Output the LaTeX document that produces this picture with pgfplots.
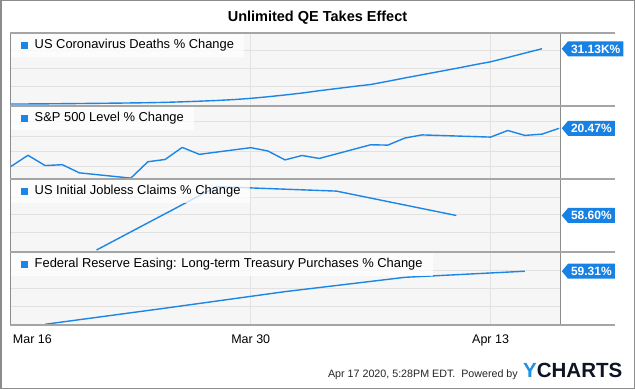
\documentclass[border=0pt]{standalone}
\usepackage{pgfplots}
\pgfplotsset{compat=1.18}
\usepackage{fontspec}
\setmainfont{Liberation Sans}
\usetikzlibrary{shapes.symbols}
\definecolor{lineblue}{RGB}{28,134,230}
\definecolor{tagblue}{RGB}{24,130,228}
\definecolor{panelbg}{RGB}{246,246,246}
\definecolor{gridc}{RGB}{226,226,226}
\definecolor{bordc}{RGB}{140,140,140}
\definecolor{sepc}{RGB}{165,165,165}
\definecolor{ychblue}{RGB}{30,144,232}
\definecolor{ychdark}{RGB}{14,20,36}
\tikzset{
  legbox/.style={fill=white, fill opacity=0.75, text opacity=1, anchor=north west,
    inner xsep=10pt, inner ysep=0pt, minimum height=23pt, text height=9pt, text depth=2.5pt,
    font=\fontsize{12.9}{14}\selectfont, xshift=1pt, yshift=-1pt},
  tag/.style={signal, signal to=west, signal pointer angle=100, fill=tagblue, text=white,
    font=\bfseries\fontsize{12}{12}\selectfont, inner xsep=3pt, inner ysep=0pt,
    minimum height=15pt, text height=8.7pt, text depth=0pt, anchor=west, xshift=1.5pt},
}
\newcommand{\legsq}{\textcolor{lineblue}{\rule[-0.5pt]{6.5pt}{7.5pt}}\hspace{7pt}}
\pgfplotsset{
  panel/.style={
    width=550pt, height=73pt, scale only axis,
    xmin=-0.05, xmax=32.05,
    axis background/.style={fill=panelbg},
    xtick={14,28}, xticklabels={},
    xmajorgrids, ymajorgrids,
    grid style={draw=gridc, line width=0.8pt},
    yticklabels={}, scaled y ticks=false,
    major tick length=0pt,
    axis line style={draw=bordc, line width=0.8pt},
    clip=false,
  },
  series/.style={lineblue, line width=1.4pt, line join=round},
}
\begin{document}
\begin{tikzpicture}[x=1pt,y=1pt]
\useasboundingbox (0pt,0pt) rectangle (635pt,389pt);
\fill[white] (0pt,0pt) rectangle (635pt,389pt);

% Panel 1
\begin{axis}[panel, at={(10pt,356pt)}, anchor=north west,
  ymin=-1100, ymax=40000, ytick={10000,20000,30000}]
\addplot[series] coordinates {
(0,0) (1,50) (2,120) (3,200) (4,300) (5,400) (6,500) (7,620) (8,750) (9,950)
(10,1250) (11,1600) (12,2000) (13,2500) (14,3200) (15,4100) (16,5100) (17,6200)
(18,7500) (19,8700) (20,9900) (21,11000) (22,12800) (23,14700) (24,16500)
(25,18300) (26,20100) (27,22000) (28,23800) (29,26200) (30,28700) (31,31130)};
\node[legbox] at (rel axis cs:0,1) {\legsq US Coronavirus Deaths \% Change};
\node[tag] at (axis cs:32.05,31130) {31.13K\%};
\end{axis}

% Panel 2
\begin{axis}[panel, at={(10pt,283pt)}, anchor=north west,
  ymin=-6.7, ymax=32.4, ytick={0,8,16,24}]
\addplot[series] coordinates {
(0,0) (1,6.00) (2,0.50) (3,0.97) (4,-3.40) (7,-6.23) (8,2.56) (9,3.75) (10,10.22)
(11,6.51) (14,10.08) (15,8.32) (16,3.54) (17,5.90) (18,4.30) (21,11.63) (22,11.45)
(23,15.25) (24,16.92) (28,15.74) (29,19.28) (30,16.65) (31,17.33) (32,20.47)};
\node[legbox] at (rel axis cs:0,1) {\legsq S\&P 500 Level \% Change};
\node[tag] at (axis cs:32.05,20.47) {20.47\%};
\end{axis}

% Panel 3
\begin{axis}[panel, at={(10pt,210pt)}, anchor=north west,
  ymin=-3.4, ymax=120.6, ytick={30,60,90}]
\addplot[series] coordinates {(5,0) (12,107.65) (19,100.03) (26,58.60)};
\node[legbox] at (rel axis cs:0,1) {\legsq US Initial Jobless Claims \% Change};
\node[tag] at (axis cs:32.05,58.60) {58.60\%};
\end{axis}

% Panel 4
\begin{axis}[panel, at={(10pt,137pt)}, anchor=north west,
  ymin=-0.8, ymax=80.8, ytick={20,40,60},
  xticklabels={Mar 30, Apr 13},
  xticklabel style={font=\fontsize{12.5}{14}\selectfont, yshift=-6.5pt},
  extra x ticks={0}, extra x tick labels={Mar 16},
  extra x tick style={grid=none, xticklabel style={anchor=north west, xshift=-1.5pt}}]
\addplot[series] coordinates {(2,0) (9,18) (16,36.5) (23,52.5) (30,59.31)};
\node[legbox] at (rel axis cs:0,1) {\legsq Federal Reserve Easing: Long-term Treasury Purchases \% Change};
\node[tag] at (axis cs:32.05,59.31) {59.31\%};
\end{axis}

% separators
\foreach \yy in {356,283,210,137,64} {
  \draw[sepc, line width=1.5pt] (10pt,\yy pt) -- (615pt,\yy pt);
}

% title
\node[font=\bfseries\fontsize{14.5}{16}\selectfont] at (317.5pt,371.5pt) {Unlimited QE Takes Effect};

% footer
\node[anchor=base east, inner sep=0pt, font=\fontsize{10.7}{12}\selectfont, text=black!85] at (518pt,12pt) {Apr 17 2020, 5:28PM EDT.\ \ Powered by};
\node[anchor=base west, inner sep=0pt, font=\bfseries\fontsize{20.5}{22}\selectfont] at (523pt,12pt) {\textcolor{ychblue}{Y}\textcolor{ychdark}{CHARTS}};

% outer border
\draw[bordc, line width=1.5pt] (0.75pt,0.75pt) rectangle (634.25pt,388.25pt);
\end{tikzpicture}
\end{document}
